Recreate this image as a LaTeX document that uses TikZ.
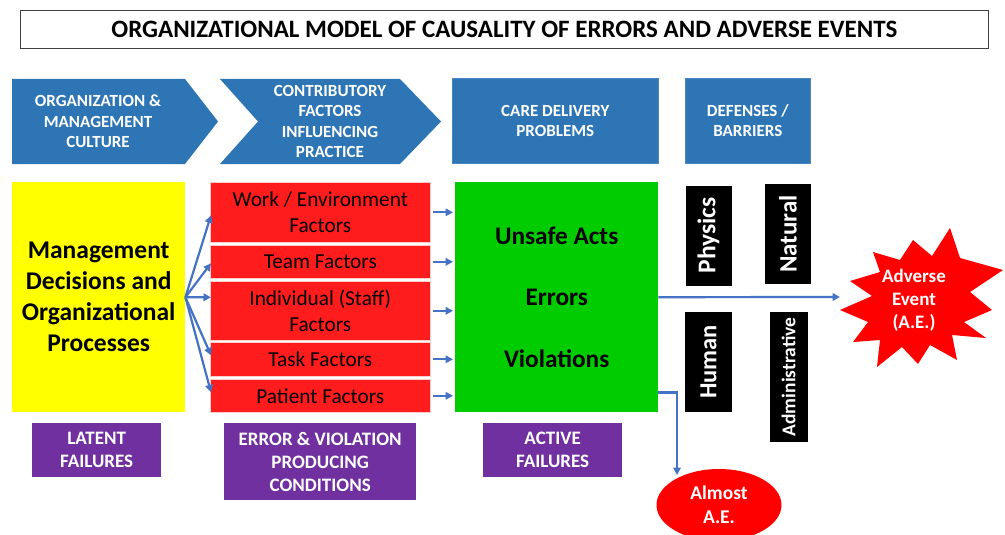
\documentclass[tikz,border=0pt]{standalone}
\usepackage{fontspec}
\setmainfont{Carlito}
\usetikzlibrary{arrows.meta,calc,shapes.geometric}
\definecolor{chev}{HTML}{2E75B6}
\definecolor{chevline}{HTML}{4A86C2}
\definecolor{arrblue}{HTML}{4472C4}
\definecolor{boxred}{HTML}{FF1C1C}
\definecolor{boxgreen}{HTML}{00CC00}
\definecolor{boxyellow}{HTML}{FFFF00}
\definecolor{boxpurple}{HTML}{7030A0}
\definecolor{starred}{HTML}{FF0000}
\newcommand{\fsz}[2]{\fontsize{#1}{#2}\selectfont}
\begin{document}
\begin{tikzpicture}[x=1pt,y=-1pt,
  box/.style={anchor=north west, inner sep=0pt, align=center},
  chevtext/.style={text=white, font=\fsz{17}{20.5}\bfseries, align=center},
  redbox/.style={box, fill=boxred, draw=white!80!red, line width=0.6pt, minimum width=220pt, font=\fsz{21.3}{26}},
  purplebox/.style={box, fill=boxpurple, text=white, font=\fsz{19}{23}\bfseries},
  blackbox/.style={fill=black, text=white, inner sep=0pt, rotate=90, font=\bfseries},
  arr/.style={draw=arrblue, line width=2.2pt, -{Triangle[length=7.5pt,width=7.5pt]}}
]
\clip (0,0) rectangle (1005,535);
\fill[white] (0,0) rectangle (1005,535);

% title
\node[box, draw=black!75, line width=0.8pt, minimum width=968pt, minimum height=38pt,
      font=\fsz{25}{28}\bfseries] (title) at (20,10)
      {ORGANIZATIONAL MODEL OF CAUSALITY OF ERRORS AND ADVERSE EVENTS};

% header chevrons and boxes
\fill[chev] (12,79) -- (185,79) -- (218,121.5) -- (185,164) -- (12,164) -- cycle;
\node[chevtext] (h1) at (98,121.5) {ORGANIZATION \&\\MANAGEMENT\\CULTURE};
\fill[chev] (220,79) -- (400,79) -- (441,121.5) -- (400,164) -- (220,164) -- (258,121.5) -- cycle;
\node[chevtext] (h2) at (330,121.5) {CONTRIBUTORY\\FACTORS\\INFLUENCING\\PRACTICE};
\node[box, fill=chev, draw=chevline, line width=0.6pt, minimum width=206pt, minimum height=85pt,
      chevtext] (h3) at (452,78) {CARE DELIVERY\\PROBLEMS};
\node[box, fill=chev, draw=chevline, line width=0.6pt, minimum width=125pt, minimum height=85pt,
      chevtext] (h4) at (685,78) {DEFENSES /\\BARRIERS};

% yellow box
\node[box, fill=boxyellow, minimum width=173pt, minimum height=230pt,
      font=\fsz{25.5}{31}\bfseries] (mgmt) at (12,182)
      {Management\\Decisions and\\Organizational\\Processes};

% red boxes
\node[redbox, minimum height=60pt] (work) at (210,182) {Work / Environment\\Factors};
\node[redbox, minimum height=33pt] (team) at (210,245) {Team Factors};
\node[redbox, minimum height=59pt] (indiv) at (210,281) {Individual (Staff)\\Factors};
\node[redbox, minimum height=34pt] (task) at (210,342) {Task Factors};
\node[redbox, minimum height=33pt] (pat) at (210,379) {Patient Factors};

% green box
\node[box, fill=boxgreen, minimum width=203pt, minimum height=230pt,
      font=\fsz{25.3}{61.5}\bfseries] (green) at (455,182)
      {Unsafe Acts\\Errors\\Violations};

% defenses
\node[blackbox, minimum width=100pt, minimum height=46pt, font=\fsz{25.5}{28}\bfseries] (phys) at (708.5,235.5) {Physics};
\node[blackbox, minimum width=100pt, minimum height=46pt, font=\fsz{25}{28}\bfseries] (nat) at (788,234) {Natural};
\node[blackbox, minimum width=100pt, minimum height=47pt, font=\fsz{24.5}{28}\bfseries] (hum) at (708.5,362) {Human};
\node[blackbox, minimum width=130pt, minimum height=38pt, font=\fsz{19.5}{22}\bfseries] (adm) at (788.5,377) {Administrative};

% purple boxes
\node[purplebox, minimum width=129pt, minimum height=54pt] (latent) at (32,423) {LATENT\\FAILURES};
\node[purplebox, minimum width=192pt, minimum height=77pt] (evpc) at (224,423) {ERROR \& VIOLATION\\PRODUCING\\CONDITIONS};
\node[purplebox, minimum width=139pt, minimum height=54pt] (active) at (483,423) {ACTIVE\\FAILURES};

% star (adverse event)
\fill[starred] (840,310) -- (872,296) -- (850,281) -- (880,272) -- (873,252) -- (900,260)
  -- (913,240) -- (932,256) -- (950,228) -- (960,258) -- (1003,270) -- (970,292)
  -- (992,310) -- (964,322) -- (986,338) -- (952,335) -- (957,360) -- (930,345)
  -- (918,364) -- (902,347) -- (877,367) -- (880,340) -- (853,342) -- (868,322) -- cycle;
\node[text=white, align=center, font=\fsz{19}{23}\bfseries] (ae) at (914,300) {Adverse\\Event\\(A.E.)};
\coordinate (aetip) at (840,297);

% almost A.E.
\node[ellipse, fill=starred, minimum width=125pt, minimum height=72pt, inner sep=0pt,
      text=white, align=center, font=\fsz{19.5}{24}\bfseries] (almost) at (719,505) {Almost\\A.E.};
\coordinate (almtip) at (677,475);

% fan arrows
\draw[arr] (mgmt.east) -- ($(work.west)+(1,3)$);
\draw[arr] (mgmt.east) -- ($(team.west)+(1,1.5)$);
\draw[arr] (mgmt.east) -- ($(indiv.west)+(1,-13.5)$);
\draw[arr] (mgmt.east) -- ($(task.west)+(1,-4)$);
\draw[arr] (mgmt.east) -- ($(pat.west)+(1,-3.5)$);

% red to green arrows
\foreach \n in {work,team,indiv,task,pat}
  \draw[arr] ($(\n.east)+(2,0)$) -- ($(\n.east -| green.west)+(-2,0)$);

% outputs
\draw[arr] (green.east) -- (aetip);
\draw[arr] ($(green.south east)+(0,-20)$) -| (almtip);
\end{tikzpicture}
\end{document}
